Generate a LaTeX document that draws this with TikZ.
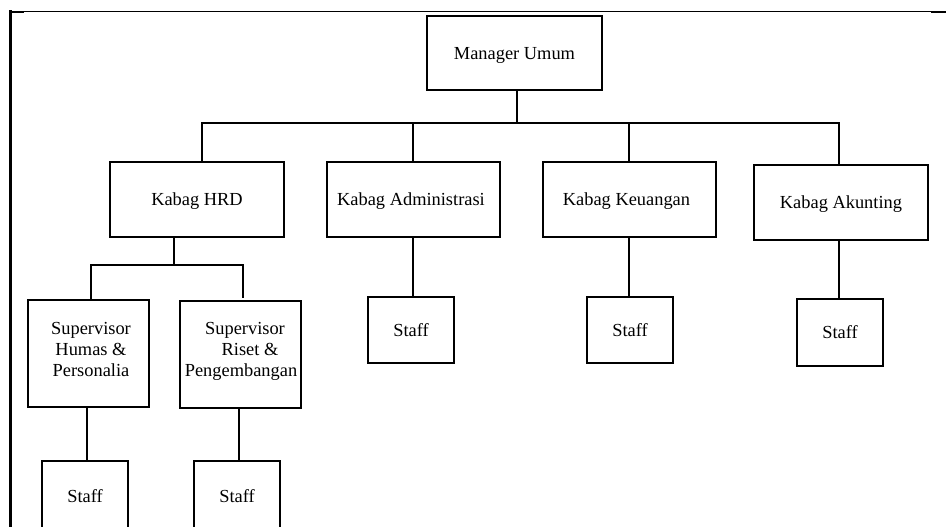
\documentclass[tikz,border=0pt]{standalone}
\usepackage{fontspec}
\setmainfont{Liberation Serif}
\begin{document}
\begin{tikzpicture}[x=1pt,y=-1pt,
  box/.style={draw, rectangle, inner sep=0pt, line width=2pt,
    font=\fontsize{18.4}{21}\selectfont, text height=12.5pt, text depth=0pt},
  lbl/.style={inner sep=0pt, font=\fontsize{18.4}{21}\selectfont, align=center},
  conn/.style={line width=2pt}]
\clip (0,0) rectangle (946,527);
\fill[white] (0,0) rectangle (946,527);
% frame
\draw[line width=1pt] (10,11.5) -- (946,11.5);
\draw[line width=2.2pt] (931,12) -- (946,12);
\draw[line width=2.2pt] (10,12) -- (24,12);
\draw[line width=2.7pt] (10.6,10.5) -- (10.6,527);
% level 1
\node[box, minimum width=175pt, minimum height=74pt] (m) at (514.5,53) {Manager Umum};
% level 2
\node[box, minimum width=174pt, minimum height=75pt] (hrd) at (197,199.5) {Kabag HRD};
\node[box, minimum width=173pt, minimum height=75pt] (adm) at (413.5,199.5) {\hspace*{-5pt}Kabag Administrasi};
\node[box, minimum width=173pt, minimum height=75pt] (keu) at (629.5,199.5) {\hspace*{-6pt}Kabag Keuangan};
\node[box, minimum width=174pt, minimum height=75pt] (akt) at (841,202.5) {Kabag Akunting};
% supervisors
\node[box, minimum width=121pt, minimum height=107pt] (shm) at (88.5,353.5) {};
\node[lbl] (tshm) at (91,349) {Supervisor\\Humas \&\\Personalia};
\node[box, minimum width=121pt, minimum height=107pt] (srp) at (240.5,354.5) {};
\node[lbl] (tsrp) at (241,351) {\hspace*{8pt}Supervisor\\\hspace*{18pt}Riset \&\\Pengembangan};
% staff
\node[box, minimum width=86pt, minimum height=66pt] (st1) at (411,330) {Staff};
\node[box, minimum width=86pt, minimum height=66pt] (st2) at (630,330) {Staff};
\node[box, minimum width=86pt, minimum height=67pt] (st3) at (840,332.5) {Staff};
\node[box, minimum width=86pt, minimum height=71pt] (st4) at (85,496.5) {Staff};
\node[box, minimum width=86pt, minimum height=71pt] (st5) at (237,496.5) {Staff};
% connectors
\coordinate (mdrop) at (517,123);
\coordinate (busL) at (202,123);
\coordinate (busA) at (413,123);
\coordinate (busK) at (629,123);
\coordinate (busR) at (839,123);
\draw[conn] (m.south -| mdrop) -- (mdrop);
\draw[conn] (hrd.north -| busL) -- (busL) -- (busR) -- (akt.north -| busR);
\draw[conn] (busA) -- (adm.north -| busA);
\draw[conn] (busK) -- (keu.north -| busK);
\coordinate (hdrop) at (174,265);
\coordinate (b2L) at (91,265);
\coordinate (b2R) at (243,265);
\coordinate (b2Rend) at (243,298);
\draw[conn] (hrd.south -| hdrop) -- (hdrop);
\draw[conn] (shm.north -| b2L) -- (b2L) -- (b2R) -- (b2Rend);
\coordinate (a1) at (413,237);
\draw[conn] (a1 |- adm.south) -- (a1 |- st1.north);
\coordinate (k1) at (629,237);
\draw[conn] (k1 |- keu.south) -- (k1 |- st2.north);
\coordinate (k2) at (839,240);
\draw[conn] (k2 |- akt.south) -- (k2 |- st3.north);
\coordinate (s1) at (87,407);
\draw[conn] (s1 |- shm.south) -- (s1 |- st4.north);
\coordinate (s2) at (239,408);
\draw[conn] (s2 |- srp.south) -- (s2 |- st5.north);
\end{tikzpicture}
\end{document}
